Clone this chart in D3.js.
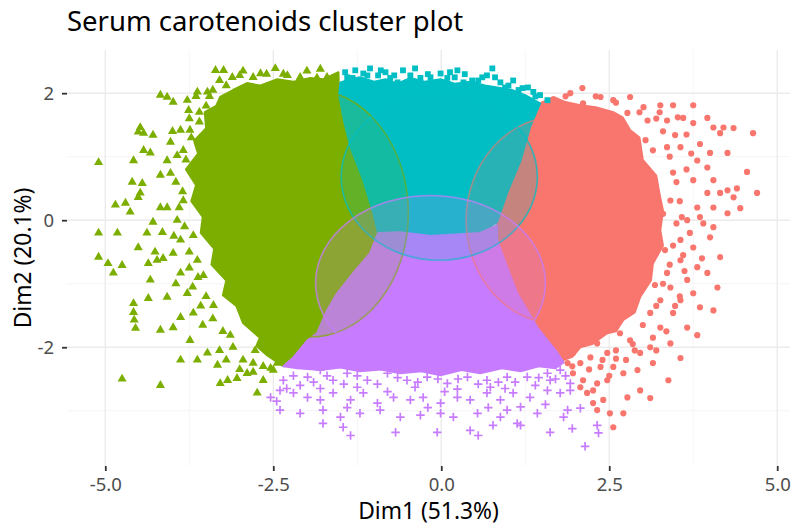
<!DOCTYPE html>
<html>
<head>
<meta charset="utf-8">
<title>Serum carotenoids cluster plot</title>
<style>
body { margin: 0; background: #fff; }
svg { display: block; font-family: 'Noto Sans', sans-serif; }
.grid-major { stroke: #ebebeb; stroke-width: 1.4; }
.grid-minor { stroke: #f2f2f2; stroke-width: 0.8; }
.axis .domain { display: none; }
.axis .tick line { stroke: #333; stroke-width: 1.8; }
.axis .tick text { fill: #4d4d4d; font-size: 18.5px; font-family: 'Noto Sans', sans-serif; }
.axis-title { fill: #000; font-size: 22.8px; }
.title { fill: #000; font-size: 27.5px; }
</style>
</head>
<body>
<svg></svg>
<script src="https://d3js.org/d3.v7.min.js"></script>
<script>
// ---- data (Dim1, Dim2) ----
const clusterNames = ['1', '2', '3', '4'];
const clusterColors = ['#F8766D', '#7CAE00', '#00BFC4', '#C77CFF'];

const xDomain = [-5.57, 5.19];
const yDomain = [-3.87, 2.68];
const xTicks = [-5, -2.5, 0, 2.5, 5];
const xTickLabels = ['-5.0', '-2.5', '0.0', '2.5', '5.0'];
const xMinor = [-3.75, -1.25, 1.25, 3.75];
const yTicks = [-2, 0, 2];
const yTickLabels = ['-2', '0', '2'];
const yMinor = [-3, -1, 1];

// outline of the solid, densely packed part of each cluster
const core1 = [[1.47,1.84],[1.67,1.94],[1.85,1.86],[2.07,1.81],[2.30,1.78],[2.56,1.70],[2.70,1.62],[2.81,1.42],[2.95,1.30],[3.00,0.95],[3.20,0.70],[3.25,0.40],[3.30,0.15],[3.26,-0.16],[3.30,-0.40],[3.15,-0.68],[3.12,-0.95],[2.96,-1.21],[2.88,-1.45],[2.71,-1.57],[2.60,-1.75],[2.47,-1.78],[2.25,-1.95],[2.07,-2.00],[1.95,-2.15],[1.82,-2.20],[1.73,-2.09],[1.43,-1.69],[1.13,-1.15],[0.98,-0.74],[0.83,-0.31],[0.83,-0.03],[0.98,0.43],[1.18,0.94],[1.32,1.46]];
const core2 = [[-3.29,1.94],[-3.10,2.05],[-2.89,2.16],[-2.70,2.12],[-2.44,2.22],[-2.20,2.18],[-1.95,2.24],[-1.75,2.22],[-1.53,2.33],[-1.52,1.97],[-1.44,1.53],[-1.35,1.15],[-1.16,0.63],[-1.01,0.11],[-0.94,-0.20],[-1.06,-0.52],[-1.31,-0.83],[-1.55,-1.15],[-1.70,-1.42],[-1.85,-1.78],[-1.99,-1.89],[-2.20,-2.16],[-2.35,-2.30],[-2.59,-2.13],[-2.75,-1.98],[-2.70,-1.85],[-2.95,-1.62],[-3.05,-1.35],[-3.25,-1.18],[-3.20,-0.95],[-3.42,-0.70],[-3.38,-0.45],[-3.58,-0.20],[-3.55,0.05],[-3.72,0.30],[-3.65,0.55],[-3.80,0.80],[-3.62,1.05],[-3.68,1.25],[-3.50,1.45],[-3.52,1.70],[-3.35,1.80]];
const core3 = [[-1.50,2.17],[-1.35,2.22],[-1.21,2.25],[-1.00,2.18],[-0.83,2.22],[-0.65,2.15],[-0.46,2.24],[-0.25,2.18],[-0.01,2.22],[0.20,2.15],[0.43,2.18],[0.65,2.12],[0.88,2.08],[1.05,2.05],[1.25,1.97],[1.47,1.84],[1.32,1.46],[1.18,0.94],[0.98,0.43],[0.83,-0.03],[0.58,-0.20],[0.28,-0.22],[-0.16,-0.25],[-0.61,-0.19],[-0.94,-0.20],[-1.01,0.11],[-1.16,0.63],[-1.35,1.15],[-1.44,1.53],[-1.52,1.97]];
const core4 = [[-0.94,-0.20],[-0.61,-0.19],[-0.16,-0.25],[0.28,-0.22],[0.58,-0.20],[0.83,-0.08],[0.83,-0.31],[0.98,-0.74],[1.13,-1.15],[1.43,-1.69],[1.73,-2.09],[1.82,-2.24],[1.70,-2.33],[1.45,-2.30],[1.18,-2.38],[0.90,-2.33],[0.58,-2.41],[0.30,-2.36],[-0.01,-2.44],[-0.30,-2.38],[-0.61,-2.41],[-0.90,-2.35],[-1.21,-2.38],[-1.50,-2.32],[-1.80,-2.36],[-2.14,-2.33],[-2.35,-2.30],[-2.20,-2.16],[-1.99,-1.89],[-1.85,-1.78],[-1.70,-1.42],[-1.55,-1.15],[-1.31,-0.83],[-1.06,-0.52]];

// loose points around the edges of each cluster
const pts1 = [[1.92,2.00],[2.10,2.08],[2.11,1.84],[2.37,1.94],[2.56,1.89],[2.81,1.94],[3.01,1.78],[3.26,1.81],[3.45,1.81],[3.75,1.81],[2.77,1.69],[3.07,1.57],[3.36,1.57],[3.60,1.61],[3.75,1.53],[3.96,1.61],[4.05,1.46],[4.20,1.46],[4.35,1.45],[4.64,1.37],[4.15,1.37],[4.26,1.06],[4.00,1.06],[3.81,0.94],[3.56,1.15],[3.36,1.15],[3.15,1.10],[4.55,0.76],[3.96,0.83],[3.75,0.63],[4.05,0.63],[4.26,0.47],[4.40,0.50],[4.70,0.43],[4.35,0.36],[4.15,0.43],[3.96,0.43],[3.81,0.20],[4.05,0.20],[4.26,0.11],[4.45,0.19],[3.66,0.00],[3.90,-0.05],[4.05,-0.11],[3.56,-0.31],[3.75,-0.43],[4.00,-0.27],[4.15,-0.58],[3.81,-0.74],[3.56,-0.63],[3.36,-0.83],[3.66,-0.94],[3.96,-0.83],[4.11,-1.06],[3.75,-1.15],[3.56,-1.26],[3.85,-1.37],[4.05,-1.42],[3.41,-1.06],[3.26,-1.26],[3.11,-1.46],[3.45,-1.46],[3.81,-1.81],[3.66,-1.69],[3.26,-1.69],[3.41,-1.94],[3.56,-2.17],[3.11,-2.00],[2.96,-2.09],[2.81,-1.89],[2.66,-1.78],[3.15,-2.25],[2.92,-2.36],[2.71,-2.41],[3.38,-2.52],[2.96,-2.68],[2.77,-2.79],[3.11,-2.80],[2.47,-2.52],[2.56,-2.31],[2.37,-2.31],[2.22,-2.16],[2.07,-2.25],[1.96,-2.41],[2.11,-2.52],[2.26,-2.68],[2.41,-2.83],[2.32,-2.99],[2.51,-3.04],[2.71,-3.04],[2.56,-3.26],[2.07,-2.63],[2.17,-2.72],[1.96,-2.09],[2.47,-2.09],[2.32,-1.94],[1.82,-2.00],[1.88,-2.25],[2.32,-2.57],[2.26,-2.88],[3.41,0.31],[3.33,-0.47],[3.18,-1.02],[3.04,1.26],[3.48,1.34],
  [3.30,1.40],[3.20,1.60],[2.95,1.70],[2.60,1.85],[2.30,1.95],[1.85,1.95],[3.40,1.00],[3.50,0.60],[3.55,0.30],[3.50,-0.05],[3.45,-0.40],[3.40,-0.70],[3.30,-1.00],[3.20,-1.35],[3.00,-1.65],[2.85,-1.95],[2.60,-2.05],[2.40,-2.20],[2.20,-2.35],[1.95,-2.30],[3.65,0.80],[3.70,-0.20],[3.60,-0.55],[3.55,-1.20],[3.35,-1.75],[3.20,-2.05],[2.75,-2.20],[2.50,-2.45],[3.85,1.20],[3.30,0.10],[3.65,1.35],
  [3.45,0.75],[3.58,0.05],[3.62,-0.80],[3.48,-1.35],[3.15,-1.85],[3.85,0.05],[3.88,-0.60],[3.72,1.05],[3.52,1.62],[3.25,1.70],[2.88,-2.05],[2.60,-2.18]];
const pts2 = [[-5.10,0.91],[-4.58,0.94],[-4.60,0.60],[-4.85,0.24],[-4.70,0.27],[-4.63,0.13],[-4.51,0.36],[-5.10,-0.20],[-4.82,-0.20],[-5.10,-0.58],[-4.96,-0.68],[-4.88,-0.83],[-4.75,-0.71],[-4.58,-1.31],[-4.58,-1.45],[-4.57,-1.57],[-4.55,-1.70],[-4.75,-2.50],[-4.18,-2.60],[-4.51,-0.43],[-4.51,1.39],[-4.48,1.46],[-4.43,1.37],[-4.29,1.34],[-4.43,1.10],[-4.33,1.06],[-4.45,0.58],[-4.48,0.43],[-4.38,-0.20],[-4.26,-0.50],[-4.23,-0.63],[-4.36,-0.68],[-4.14,-0.60],[-4.15,-0.19],[-4.29,-0.03],[-4.18,0.20],[-4.08,0.20],[-4.18,0.71],[-4.03,0.74],[-4.08,0.94],[-3.93,1.02],[-4.03,1.23],[-3.88,1.42],[-4.18,1.97],[-4.08,1.94],[-3.99,1.86],[-3.78,1.89],[-3.76,1.73],[-3.63,2.02],[-3.48,2.02],[-3.36,2.36],[-3.24,2.36],[-3.11,2.25],[-2.69,2.31],[-2.47,2.39],[-2.29,2.28],[-2.10,2.25],[-1.85,2.24],[-1.70,2.25],[-4.33,-0.94],[-4.08,-1.21],[-4.36,-1.23],[-3.99,-1.69],[-4.18,-1.73],[-3.88,-2.20],[-3.74,-1.89],[-3.63,-2.20],[-3.48,-2.09],[-3.33,-2.28],[-3.18,-2.52],[-3.29,-2.57],[-3.04,-2.49],[-2.89,-2.41],[-2.74,-2.72],[-3.99,-0.52],[-3.88,-0.83],[-3.78,-1.15],[-3.88,-1.53],[-3.69,-1.46],[-3.93,0.00],[-3.84,0.31],[-3.88,-0.31],[-3.63,-0.63],[-3.74,1.42],[-3.84,1.10],[-3.69,-0.24],[-3.54,-0.87],[-3.39,-1.34],[-3.14,-1.81],[-2.77,-2.05],[-2.54,-2.33],[-2.50,-2.36],[-2.80,-2.39],[-2.65,-2.52],[-2.44,-2.25],
  [-3.85,0.45],[-3.80,0.95],[-3.72,1.30],[-3.60,1.55],[-3.50,1.80],[-3.40,2.05],[-3.20,2.12],[-3.00,2.28],[-2.80,2.25],[-2.60,2.30],[-2.35,2.30],[-2.00,2.35],[-1.80,2.38],[-3.82,-0.10],[-3.75,-0.50],[-3.62,-0.90],[-3.50,-1.20],[-3.40,-1.55],[-3.25,-1.75],[-3.10,-2.00],[-2.95,-2.20],[-2.80,-2.25],[-2.65,-2.30],[-3.95,0.60],[-3.98,-0.25],[-3.70,-1.05],[-3.55,-1.65],[-3.30,-2.05],[-3.00,-2.35],[-4.00,1.40],[-3.65,1.95],[-3.95,-1.00],
  [-3.45,1.95],[-3.30,2.20],[-2.95,2.35],[-3.60,1.70],[-3.75,1.60],[-3.90,0.20],[-3.75,-0.75],[-3.58,-1.35],[-3.20,-2.20]];
const pts3 = [[-1.43,2.33],[-1.28,2.36],[-1.16,2.31],[-1.06,2.39],[-0.94,2.28],[-0.76,2.24],[-0.57,2.36],[-0.46,2.28],[-0.31,2.24],[-0.16,2.25],[-0.01,2.31],[0.13,2.33],[0.24,2.36],[0.33,2.17],[0.46,2.20],[0.61,2.25],[0.76,2.39],[0.88,2.17],[0.95,2.09],[1.07,2.20],[1.21,2.08],[1.29,2.09],[1.37,2.02],[1.47,1.97],[1.58,1.89],[-0.65,2.17],[-1.32,2.24],[-0.83,2.33],[-0.39,2.39],[0.09,2.24],[0.68,2.28],
  [-1.40,2.25],[-1.10,2.28],[-0.70,2.28],[-0.20,2.30],[0.20,2.25],[0.55,2.20],[0.80,2.25],[1.15,2.05],[1.40,1.95],[-0.90,2.36],[0.35,2.30],[1.00,2.12]];
const pts4 = [[-2.35,-2.52],[-1.99,-2.47],[-1.80,-2.36],[-1.61,-2.52],[-1.40,-2.41],[-1.10,-2.52],[-0.80,-2.41],[-0.51,-2.52],[-0.21,-2.47],[0.09,-2.57],[0.39,-2.47],[0.68,-2.52],[0.98,-2.47],[1.28,-2.47],[1.58,-2.41],[1.77,-2.36],[-2.54,-2.79],[-2.40,-2.68],[-2.20,-2.72],[-1.99,-2.79],[-1.80,-2.83],[-1.61,-2.72],[-1.35,-2.83],[-1.16,-2.72],[-0.95,-2.88],[-0.71,-2.79],[-0.46,-2.83],[-0.27,-2.79],[-0.01,-2.88],[0.24,-2.79],[0.43,-2.83],[0.68,-2.72],[0.88,-2.83],[1.07,-2.72],[1.32,-2.79],[1.58,-2.68],[1.77,-2.72],[1.92,-2.68],[-2.40,-2.99],[-2.10,-3.04],[-1.76,-2.99],[-1.50,-3.10],[-1.21,-3.04],[-0.91,-2.99],[-0.61,-3.10],[-0.31,-3.07],[-0.01,-3.04],[0.18,-3.10],[0.54,-3.04],[0.98,-2.99],[1.18,-2.94],[1.43,-3.04],[1.88,-2.99],[2.07,-2.96],[1.82,-3.10],[-1.76,-3.20],[-1.46,-3.26],[-1.35,-3.39],[-0.68,-3.34],[-0.06,-3.34],[0.43,-3.31],[0.55,-3.39],[0.77,-3.23],[1.18,-3.23],[1.62,-3.34],[1.95,-3.28],[2.32,-3.23],[2.34,-3.35],[2.14,-3.56],[1.92,-2.57],[1.13,-3.20],[0.88,-3.10],[0.73,-2.63],[-2.10,-2.60],[-1.25,-2.63],[-0.39,-2.63],[0.24,-2.66],[1.40,-2.60],[1.62,-2.52],
  [-2.20,-2.45],[-1.90,-2.55],[-1.70,-2.45],[-1.45,-2.58],[-1.25,-2.45],[-0.95,-2.58],[-0.65,-2.48],[-0.35,-2.55],[-0.05,-2.50],[0.25,-2.50],[0.55,-2.58],[0.85,-2.55],[1.10,-2.55],[1.45,-2.48],[1.70,-2.50],[-2.30,-2.65],[-1.80,-2.65],[-0.80,-2.70],[0.05,-2.70],[0.95,-2.65],[1.85,-2.45],[-2.45,-2.85],[-1.40,-2.95],[-0.20,-2.95],[0.70,-2.95],[1.55,-2.90]];

// concentration ellipses: centre and semi-axes in data units
const ellCx = [1.77, -1.95, -0.03, -0.16];
const ellCy = [0.00, 0.11, 0.68, -0.99];
const ellRx = [1.40, 1.46, 1.46, 1.71];
const ellRy = [1.64, 1.95, 1.31, 1.38];

const cores = [core1, core2, core3, core4];
const pts = [pts1, pts2, pts3, pts4];

// ---- layout ----
const width = 798, height = 530;
const margin = { top: 50, right: 8, bottom: 64, left: 67 };
const pl = margin.left, pr = width - margin.right, pt = margin.top, pb = height - margin.bottom;

const svg = d3.select('svg').attr('width', width).attr('height', height);

const x = d3.scaleLinear(xDomain, [pl, pr]);
const y = d3.scaleLinear(yDomain, [pb, pt]);
const color = d3.scaleOrdinal(clusterNames, clusterColors);

svg.append('defs').append('clipPath').attr('id', 'panel')
   .append('rect').attr('x', pl).attr('y', pt).attr('width', pr - pl).attr('height', pb - pt);

// grid
const grid = svg.append('g');
grid.selectAll('.vmin').data(xMinor).join('line').attr('class', 'grid-minor')
    .attr('x1', d => x(d)).attr('x2', d => x(d)).attr('y1', pt).attr('y2', pb);
grid.selectAll('.hmin').data(yMinor).join('line').attr('class', 'grid-minor')
    .attr('y1', d => y(d)).attr('y2', d => y(d)).attr('x1', pl).attr('x2', pr);
grid.selectAll('.vmaj').data(xTicks).join('line').attr('class', 'grid-major')
    .attr('x1', d => x(d)).attr('x2', d => x(d)).attr('y1', pt).attr('y2', pb);
grid.selectAll('.hmaj').data(yTicks).join('line').attr('class', 'grid-major')
    .attr('y1', d => y(d)).attr('y2', d => y(d)).attr('x1', pl).attr('x2', pr);

const plot = svg.append('g').attr('clip-path', 'url(#panel)');

// dense cores
const area = d3.line().x(d => x(d[0])).y(d => y(d[1])).curve(d3.curveLinearClosed);
plot.selectAll('path.core').data(cores).join('path')
    .attr('class', 'core')
    .attr('d', d => area(d))
    .attr('fill', (d, i) => color(clusterNames[i]))
    .attr('stroke', (d, i) => color(clusterNames[i]))
    .attr('stroke-width', 2)
    .attr('stroke-linejoin', 'round');

// point shapes per cluster: circle, triangle, square, plus
const plus = {
  draw(ctx, size) {
    const r = Math.sqrt(size) / 2;
    ctx.moveTo(-r, 0); ctx.lineTo(r, 0);
    ctx.moveTo(0, -r); ctx.lineTo(0, r);
  }
};
const symbols = [
  d3.symbol(d3.symbolCircle, 30)(),
  d3.symbol(d3.symbolTriangle, 36)(),
  d3.symbol(d3.symbolSquare, 34)(),
  d3.symbol(plus, 72)()
];

pts.forEach((list, i) => {
  const c = color(clusterNames[i]);
  plot.append('g').selectAll('path').data(list).join('path')
      .attr('d', symbols[i])
      .attr('transform', d => `translate(${x(d[0])},${y(d[1])})`)
      .attr('fill', i === 3 ? 'none' : c)
      .attr('stroke', i === 3 ? c : 'none')
      .attr('stroke-width', 1.7);
});

// ellipses
plot.selectAll('ellipse').data(clusterNames).join('ellipse')
    .attr('cx', (d, i) => x(ellCx[i]))
    .attr('cy', (d, i) => y(ellCy[i]))
    .attr('rx', (d, i) => x(ellCx[i] + ellRx[i]) - x(ellCx[i]))
    .attr('ry', (d, i) => y(ellCy[i] - ellRy[i]) - y(ellCy[i]))
    .attr('fill', d => color(d))
    .attr('fill-opacity', 0.2)
    .attr('stroke', d => color(d))
    .attr('stroke-opacity', 0.75)
    .attr('stroke-width', 1.6);

// axes
svg.append('g').attr('class', 'axis')
   .attr('transform', `translate(0,${pb})`)
   .call(d3.axisBottom(x).tickValues(xTicks).tickFormat((d, i) => xTickLabels[i]).tickSize(5).tickPadding(7));

svg.append('g').attr('class', 'axis')
   .attr('transform', `translate(${pl},0)`)
   .call(d3.axisLeft(y).tickValues(yTicks).tickFormat((d, i) => yTickLabels[i]).tickSize(5).tickPadding(8));

// titles
svg.append('text').attr('class', 'title')
   .attr('x', pl).attr('y', 31)
   .text('Serum carotenoids cluster plot');

svg.append('text').attr('class', 'axis-title')
   .attr('x', (pl + pr) / 2).attr('y', 519)
   .attr('text-anchor', 'middle')
   .text('Dim1 (51.3%)');

svg.append('text').attr('class', 'axis-title')
   .attr('transform', `translate(31,${(pt + pb) / 2}) rotate(-90)`)
   .attr('text-anchor', 'middle')
   .text('Dim2 (20.1%)');
</script>
</body>
</html>
